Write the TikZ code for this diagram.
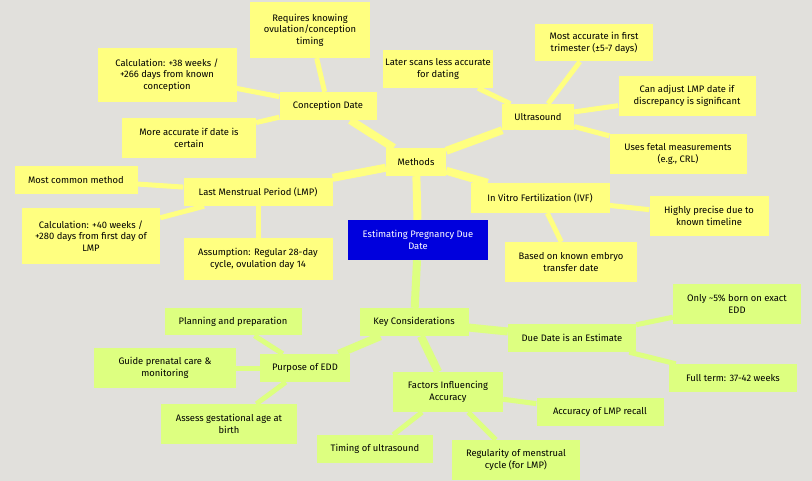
\documentclass[tikz,border=0pt]{standalone}
\usepackage{fontspec}
\setmainfont{Fira Sans}
\usetikzlibrary{backgrounds}
\pgfdeclarelayer{edges}
\pgfsetlayers{background,edges,main}
\definecolor{bg}{HTML}{E1E0DC}
\definecolor{yel}{HTML}{FFFF80}
\definecolor{grn}{HTML}{DDFF80}
\definecolor{rootb}{HTML}{0000DD}
\tikzset{
 x=1pt,y=-1pt,
 base/.style={inner sep=2pt,align=center,font=\fontsize{9.4}{11.5}\selectfont},
 ynode/.style={base,fill=yel},
 gnode/.style={base,fill=grn},
 yl/.style={draw=yel,line width=5pt},
 ylt/.style={draw=yel,line width=8pt},
 gl/.style={draw=grn,line width=5pt},
 glt/.style={draw=grn,line width=8pt},
}
\newcommand{\bx}[7]{\node[#1,minimum width=#4,minimum height=#5] (#2) at (#3) {#6};}
\begin{document}
\begin{tikzpicture}
\begin{pgfonlayer}{background}
\fill[bg] (0,0) rectangle (812,481);
\end{pgfonlayer}
\useasboundingbox (0,0) rectangle (812,481);
\node[base,fill=rootb,text=white,minimum width=140,minimum height=40] (root) at (418,240) {Estimating Pregnancy Due\\Date};
\bx{ynode}{meth}{416,162}{60}{28}{Methods}{}
\bx{ynode}{conc}{328,106}{97}{28}{Conception Date}{}
\bx{ynode}{req}{310,30}{120}{56}{Requires knowing\\ovulation/conception\\timing}{}
\bx{ynode}{calc1}{167,75}{139}{54}{Calculation: +38 weeks /\\+266 days from known\\conception}{}
\bx{ynode}{moreacc}{189,138}{134}{40}{More accurate if date is\\certain}{}
\bx{ynode}{ultra}{538,117}{72}{26}{Ultrasound}{}
\bx{ynode}{later}{438,69}{108}{38}{Later scans less accurate\\for dating}{}
\bx{ynode}{most}{594,43}{118}{37}{Most accurate in first\\trimester (±5-7 days)}{}
\bx{ynode}{adj}{687,96}{137}{40}{Can adjust LMP date if\\discrepancy is significant}{}
\bx{ynode}{fetal}{678,154}{137}{40}{Uses fetal measurements\\(e.g., CRL)}{}
\bx{ynode}{lmp}{258,192}{149}{28}{Last Menstrual Period (LMP)}{}
\bx{ynode}{common}{76,180}{123}{28}{Most common method}{}
\bx{ynode}{calc2}{91,236}{138}{56}{Calculation: +40 weeks /\\+280 days from first day of\\LMP}{}
\bx{ynode}{assume}{258,259}{149}{42}{Assumption: Regular 28-day\\cycle, ovulation day 14}{}
\bx{ynode}{ivf}{540,198}{139}{30}{In Vitro Fertilization (IVF)}{}
\bx{ynode}{prec}{709,216}{119}{40}{Highly precise due to\\known timeline}{}
\bx{ynode}{embryo}{571,262}{132}{40}{Based on known embryo\\transfer date}{}
\bx{gnode}{key}{414,322}{109}{28}{Key Considerations}{}
\bx{gnode}{purp}{305,368}{90}{28}{Purpose of EDD}{}
\bx{gnode}{plan}{233,322}{137}{27}{Planning and preparation}{}
\bx{gnode}{guide}{165,368}{142}{40}{Guide prenatal care \&\\monitoring}{}
\bx{gnode}{assess}{229,424}{136}{40}{Assess gestational age at\\birth}{}
\bx{gnode}{fact}{448,392}{110}{40}{Factors Influencing\\Accuracy}{}
\bx{gnode}{timing}{375,449}{116}{28}{Timing of ultrasound}{}
\bx{gnode}{regul}{516,460}{128}{40}{Regularity of menstrual\\cycle (for LMP)}{}
\bx{gnode}{recall}{600,412}{127}{28}{Accuracy of LMP recall}{}
\bx{gnode}{due}{572,338}{128}{28}{Due Date is an Estimate}{}
\bx{gnode}{only}{737,304}{128}{40}{Only \textasciitilde5\% born on exact\\EDD}{}
\bx{gnode}{full}{733,378}{128}{28}{Full term: 37-42 weeks}{}
\begin{pgfonlayer}{edges}
\draw[ylt] (root) -- (meth);
\draw[glt] (root) -- (key);
\draw[ylt] (meth) -- (conc);
\draw[ylt] (meth) -- (ultra);
\draw[ylt] (meth) -- (lmp);
\draw[ylt] (meth) -- (ivf);
\draw[yl] (conc) -- (req);
\draw[yl] (conc) -- (calc1);
\draw[yl] (conc) -- (moreacc);
\draw[yl] (ultra) -- (later);
\draw[yl] (ultra) -- (most);
\draw[yl] (ultra) -- (adj);
\draw[yl] (ultra) -- (fetal);
\draw[yl] (lmp) -- (common);
\draw[yl] (lmp) -- (calc2);
\draw[yl] (lmp) -- (assume);
\draw[yl] (ivf) -- (prec);
\draw[yl] (ivf) -- (embryo);
\draw[glt] (key) -- (purp);
\draw[glt] (key) -- (fact);
\draw[glt] (key) -- (due);
\draw[gl] (purp) -- (plan);
\draw[gl] (purp) -- (guide);
\draw[gl] (purp) -- (assess);
\draw[gl] (fact) -- (timing);
\draw[gl] (fact) -- (regul);
\draw[gl] (fact) -- (recall);
\draw[gl] (due) -- (only);
\draw[gl] (due) -- (full);
\end{pgfonlayer}
\end{tikzpicture}
\end{document}
